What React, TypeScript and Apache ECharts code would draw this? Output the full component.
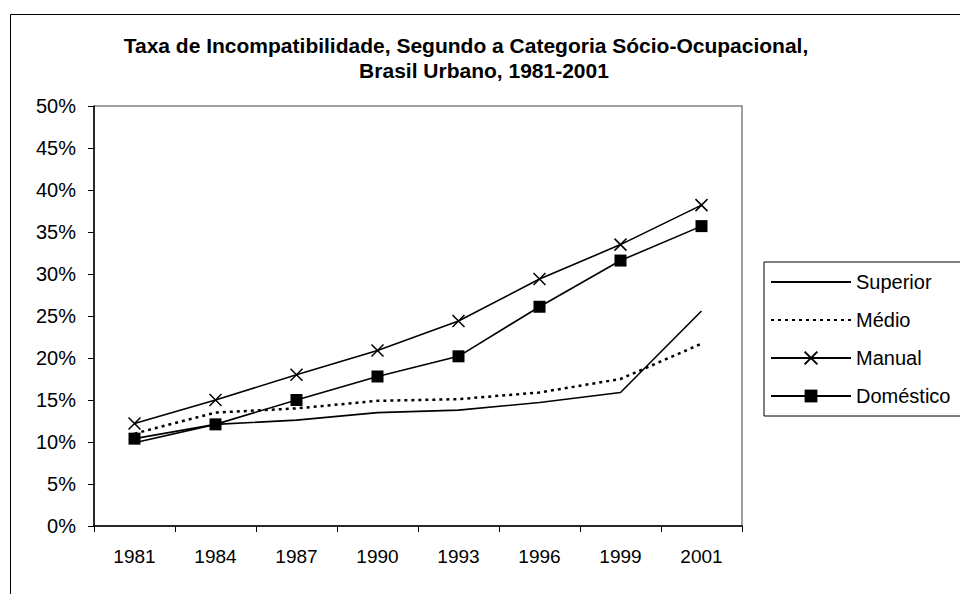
import React, { useEffect, useRef } from "react";
import * as echarts from "echarts";

const titleLine1 = "Taxa de Incompatibilidade, Segundo a Categoria Sócio-Ocupacional,";
const titleLine2 = "Brasil Urbano, 1981-2001";
const years = ["1981", "1984", "1987", "1990", "1993", "1996", "1999", "2001"];
const superior = [9.9, 12.1, 12.6, 13.5, 13.8, 14.7, 15.9, 25.6];
const medio = [11.0, 13.5, 14.0, 14.9, 15.1, 15.9, 17.5, 21.7];
const manual = [12.2, 15.0, 18.0, 20.9, 24.4, 29.4, 33.5, 38.2];
const domestico = [10.4, 12.1, 15.0, 17.8, 20.2, 26.1, 31.6, 35.7];
const seriesNames = ["Superior", "Médio", "Manual", "Doméstico"];
const yTicks = { min: 0, max: 50, interval: 5 };

const FONT = '"Liberation Sans", Arial, sans-serif';

export default function App() {
  const ref = useRef<HTMLDivElement>(null);
  useEffect(() => {
    if (!ref.current) return;
    const chart = echarts.init(ref.current, null, { renderer: "svg" });
    const baseLine = { color: "#000", width: 1.6 };
    chart.setOption({
      animation: false,
      backgroundColor: "#fff",
      textStyle: { fontFamily: FONT, color: "#000" },
      graphic: [
        {
          type: "rect",
          shape: { x: 10.5, y: 14.5, width: 1000, height: 700 },
          style: { fill: "none", stroke: "#000", lineWidth: 1 },
          silent: true,
        },
        {
          type: "text",
          x: 466,
          y: 45,
          style: {
            text: titleLine1,
            textAlign: "center",
            textVerticalAlign: "middle",
            font: `bold 21px ${FONT}`,
            fill: "#000",
          },
        },
        {
          type: "text",
          x: 484,
          y: 70,
          style: {
            text: titleLine2,
            textAlign: "center",
            textVerticalAlign: "middle",
            font: `bold 21px ${FONT}`,
            fill: "#000",
          },
        },
      ],
      grid: {
        left: 94,
        top: 106,
        width: 648,
        height: 420,
        show: true,
        borderColor: "#808080",
        borderWidth: 1.5,
        backgroundColor: "transparent",
      },
      legend: {
        orient: "vertical",
        left: 764,
        top: 262,
        padding: [10, 30, 10, 6],
        borderColor: "#000",
        borderWidth: 1,
        backgroundColor: "#fff",
        itemWidth: 80,
        itemHeight: 16,
        itemGap: 18,
        textStyle: { fontFamily: FONT, fontSize: 20, color: "#000" },
        data: [
          { name: seriesNames[0], itemStyle: { opacity: 0 } },
          { name: seriesNames[1], itemStyle: { opacity: 0 } },
          { name: seriesNames[2] },
          { name: seriesNames[3] },
        ],
      },
      xAxis: {
        type: "category",
        data: years,
        boundaryGap: true,
        axisLine: { show: true, lineStyle: { color: "#000", width: 1.5 } },
        axisTick: { show: true, alignWithLabel: false, length: 6, lineStyle: { color: "#000" } },
        axisLabel: { fontFamily: FONT, fontSize: 19, color: "#000", margin: 21 },
        splitLine: { show: false },
      },
      yAxis: {
        type: "value",
        min: yTicks.min,
        max: yTicks.max,
        interval: yTicks.interval,
        axisLine: { show: true, lineStyle: { color: "#000", width: 1.5 } },
        axisTick: { show: true, length: 6, lineStyle: { color: "#000" } },
        axisLabel: { fontFamily: FONT, fontSize: 20, color: "#000", margin: 18, formatter: "{value}%" },
        splitLine: { show: false },
      },
      series: [
        {
          name: seriesNames[0],
          type: "line",
          data: superior,
          symbol: "none",
          lineStyle: baseLine,
          itemStyle: { color: "#000" },
        },
        {
          name: seriesNames[1],
          type: "line",
          data: medio,
          symbol: "none",
          lineStyle: { color: "#000", width: 2.5, type: [3, 4] },
          itemStyle: { color: "#000" },
        },
        {
          name: seriesNames[2],
          type: "line",
          data: manual,
          symbol: "path://M0,0L10,10M10,0L0,10",
          symbolSize: 12,
          lineStyle: baseLine,
          itemStyle: { color: "none", borderColor: "#000", borderWidth: 1.5 },
        },
        {
          name: seriesNames[3],
          type: "line",
          data: domestico,
          symbol: "rect",
          symbolSize: 12,
          lineStyle: baseLine,
          itemStyle: { color: "#000" },
        },
      ],
    });
    return () => chart.dispose();
  }, []);
  return (
    <div
      ref={ref}
      style={{ position: "fixed", left: 0, top: 0, width: 960, height: 594, background: "#fff" }}
    />
  );
}
